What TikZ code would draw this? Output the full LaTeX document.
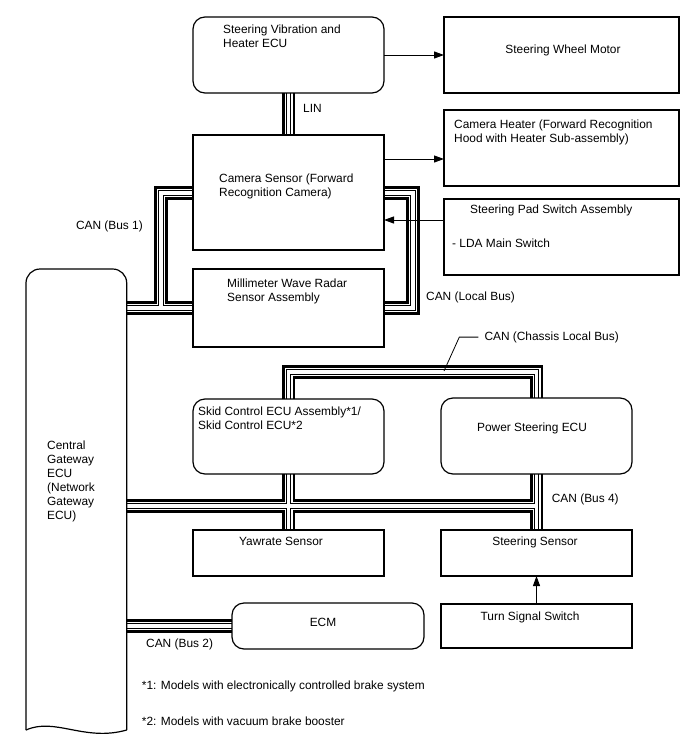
\documentclass[tikz,border=0pt]{standalone}
\usepackage{fontspec}
\setmainfont{Liberation Sans}
\usepackage{tikz}
\usetikzlibrary{arrows.meta,positioning,backgrounds}
\tikzset{
    ecu/.style = {rectangle, rounded corners=12pt, draw, line width=1.2pt, minimum width=191pt, minimum height=76pt, anchor=north west, outer sep=0pt, inner sep=0pt},
    unit/.style = {rectangle, draw, line width=1.2pt, minimum width=235pt, minimum height=76pt, anchor=north west, outer sep=0pt, inner sep=0pt},
    txt/.style = {inner sep=0pt, align=left, font=\fontsize{11.9}{14}\selectfont},
    sig/.style = {-{Triangle[length=10pt,width=7pt]}, line width=1pt},
    leader/.style = {line width=0.8pt}
}

\begin{document}
\begin{tikzpicture}[x=1pt, y=-1pt]
    \useasboundingbox (0,0) rectangle (688,755);

    % Units
    \node [ecu] (svecu) at (193,17) {};
    \node [unit] (motor) at (444,17) {};
    \node [unit, minimum width=191pt, minimum height=115pt] (camera) at (193,135) {};
    \node [unit] (heater) at (444,110) {};
    \node [unit] (padsw) at (444,199) {};
    \node [unit, minimum width=191pt, minimum height=78pt] (radar) at (193,269) {};
    \node [ecu, minimum height=75pt] (skid) at (193,399) {};
    \node [ecu] (psecu) at (441,398) {};
    \node [unit, minimum width=191pt, minimum height=46pt] (yaw) at (193,530) {};
    \node [unit, minimum width=191pt, minimum height=46pt] (steer) at (441,530) {};
    \node [unit, minimum width=191pt, minimum height=44pt] (turn) at (441,604) {};
    \node [ecu, minimum width=192pt, minimum height=46pt] (ecm) at (232,603) {};
    \node [unit, draw=none, minimum width=100.7pt, minimum height=461pt] (gateway) at (26,269) {};

    % Gateway outline
    \draw [line width=1.2pt, rounded corners=14pt] (gateway.south west) -- (gateway.north west) -- (gateway.north east) -- (gateway.south east);
    \draw [line width=1.2pt] (gateway.south east) .. controls +(-42,12) and +(29,-13) .. (gateway.south west);

    % Texts
    \node [txt, below right=8pt and 30pt of svecu.north west] (svecu-txt) {Steering Vibration and\\Heater ECU};
    \node [txt, below=28pt of motor.north, xshift=1.5pt] (motor-txt) {Steering Wheel Motor};
    \node [txt, below right=39pt and 26pt of camera.north west] (camera-txt) {Camera Sensor (Forward\\Recognition Camera)};
    \node [txt, below right=10pt and 10pt of heater.north west] (heater-txt) {Camera Heater (Forward Recognition\\Hood with Heater Sub-assembly)};
    \node [txt, below right=6pt and 26pt of padsw.north west] (padsw-txt) {Steering Pad Switch Assembly};
    \node [txt, below right=40pt and 8pt of padsw.north west] (lda-txt) {- LDA Main Switch};
    \node [txt, below right=10pt and 34pt of radar.north west] (radar-txt) {Millimeter Wave Radar\\Sensor Assembly};
    \node [txt, below right=172pt and 21pt of gateway.north west] (gateway-txt) {Central\\Gateway\\ECU\\(Network\\Gateway\\ECU)};
    \node [txt, below right=7.5pt and 5pt of skid.north west] (skid-txt) {Skid Control ECU Assembly*1/\\Skid Control ECU*2};
    \node [txt, below=25pt of psecu.north, xshift=-4.5pt] (psecu-txt) {Power Steering ECU};
    \node [txt, below=7.4pt of yaw.north, xshift=-7.5pt] (yaw-txt) {Yawrate Sensor};
    \node [txt, below=6.7pt of steer.north, xshift=-1.5pt] (steer-txt) {Steering Sensor};
    \node [txt, below=8pt of turn.north, xshift=-6.5pt] (turn-txt) {Turn Signal Switch};
    \node [txt, below=15pt of ecm.north, xshift=-5pt] (ecm-txt) {ECM};

    % Bus labels and notes
    \node [txt, anchor=north west] (lin-txt) at (303,104) {LIN};
    \node [txt, anchor=north east] (can1-txt) at (143,220.5) {CAN (Bus 1)};
    \node [txt, anchor=north west] (canlocal-txt) at (426,291.7) {CAN (Local Bus)};
    \node [txt, anchor=north west] (canchassis-txt) at (484.3,331.4) {CAN (Chassis Local Bus)};
    \node [txt, anchor=north west] (can4-txt) at (551.7,494) {CAN (Bus 4)};
    \node [txt, anchor=north west] (can2-txt) at (146,638.4) {CAN (Bus 2)};
    \node [txt, anchor=north west] (note1) at (141.7,681) {*1: Models with electronically controlled brake system};
    \node [txt, anchor=north west] (note2) at (141.7,717) {*2: Models with vacuum brake booster};

    % Bus points
    \path (radar.west) ++(-32,0) coordinate (bus1);
    \coordinate (camin) at ([yshift=-58pt]camera.north west);
    \coordinate (camout) at ([yshift=-58pt]camera.north east);
    \path (psecu.south) ++(0,32) coordinate (bus4);
    \coordinate (chassis) at (444,371);

    % Buses
    \begin{scope}[on background layer]
        \foreach \w/\c in {13.5/black, 8/white, 5.5/black, 3.5/white}
            \draw [line width=\w pt, \c, line join=miter]
                (svecu.south) -- (camera.north)
                (gateway.east |- radar.west) -- (radar.west)
                (bus1) |- (camin)
                (camout) -- ++(29,0) |- (radar.east)
                (skid.north) -- ++(0,-27) -| (psecu.north)
                (gateway.east |- bus4) -- (bus4)
                (psecu.south) -- (steer.north)
                (skid.south) -- (yaw.north)
                (gateway.east |- ecm.west) -- (ecm.west);
    \end{scope}
    \draw [leader] ([xshift=-6pt]canchassis-txt.west) -- ++(-19,0) -- (chassis);

    % Signals
    \coordinate (heatin) at ([yshift=-11pt]heater.west);
    \coordinate (padout) at ([yshift=17pt]padsw.west);
    \draw [sig] (svecu.east) -- (motor.west);
    \draw [sig] (camera.east |- heatin) -- (heatin);
    \draw [sig] (padout) -- (camera.east |- padout);
    \draw [sig] (turn.north) -- (steer.south);
\end{tikzpicture}
\end{document}
